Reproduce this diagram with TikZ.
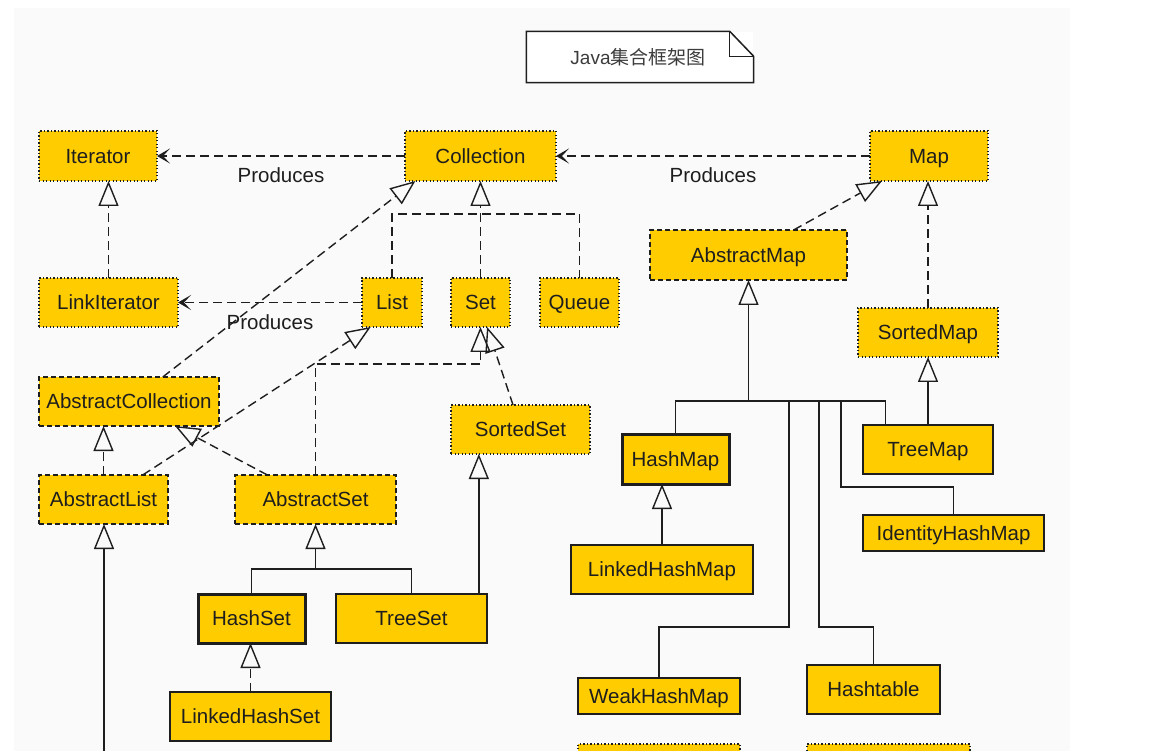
\documentclass[tikz,border=0pt]{standalone}
\usepackage{fontspec}
\setmainfont{Liberation Sans}
\newfontfamily\cjkfont{Noto Sans CJK SC}
\usetikzlibrary{arrows.meta}
\definecolor{jcfyellow}{RGB}{255,204,0}
\definecolor{jcfpanel}{RGB}{250,250,250}
\definecolor{jcfink}{RGB}{30,30,30}
\definecolor{jcftitle}{RGB}{60,60,60}

\begin{document}
\begin{tikzpicture}[x=1pt, y=-1pt, line width=1.4pt, color=jcfink,
  box/.style={fill=jcfyellow, text=jcfink, inner sep=0pt, outer sep=0pt,
    text height=14.5pt, text depth=0pt, font=\fontsize{20.5}{24}\selectfont},
  boxsize/.style 2 args={minimum width=#1pt, minimum height=#2pt},
  iface/.style={box, draw, line width=1.3pt, dash pattern=on 1.3pt off 2.2pt},
  abstr/.style={box, draw, line width=1.3pt, dash pattern=on 5pt off 3pt},
  impl/.style={box, draw, line width=1.5pt},
  core/.style={box, draw, line width=3pt},
  dep/.style={dash pattern=on 9pt off 5pt},
  gen/.style={-{Triangle[open, length=25pt, width=20pt]}},
  prod/.style={dep, -{Stealth[length=13pt, width=15pt, inset=7pt]}},
  lbl/.style={below=9pt, inner sep=2pt, text=jcfink, font=\fontsize{20.5}{24}\selectfont}]

% Canvas
\useasboundingbox (0,0) rectangle (1168,751);
\clip (0,0) rectangle (1168,751);
\fill[white] (0,0) rectangle (1168,751);
\fill[jcfpanel] (14,8) rectangle (1070,751);

% Title note
\node[fill=white, inner sep=0pt, boxsize={226}{50}, text=jcftitle,
  font=\fontsize{19}{22}\selectfont] (title) at (640,57) {Java{\cjkfont 集合框架图}\hspace*{4pt}};
\draw[line width=1.5pt] (title.north west) -- ([xshift=-24pt]title.north east)
  -- ([yshift=-25pt]title.north east) -- (title.south east) -- (title.south west) -- cycle;
\draw[line width=1.5pt] ([xshift=-24pt]title.north east) -- ++(0,25) -- ([yshift=-25pt]title.north east);

% Interfaces
\node[iface, boxsize={118}{50}] (iterator) at (98,156) {Iterator};
\node[iface, boxsize={151}{50}] (collection) at (480.5,156) {Collection};
\node[iface, boxsize={118}{50}] (map) at (929,156) {Map};
\node[iface, boxsize={139}{49}] (linkiter) at (108.5,302.5) {LinkIterator};
\node[iface, boxsize={60}{49}] (list) at (392,302.5) {List};
\node[iface, boxsize={59}{49}] (set) at (480.5,302.5) {Set};
\node[iface, boxsize={79}{49}] (queue) at (579.5,302.5) {Queue};
\node[iface, boxsize={140}{49}] (sortedmap) at (928,332.5) {SortedMap};
\node[iface, boxsize={139}{49}] (sortedset) at (520.5,429.5) {SortedSet};

% Abstract classes
\node[abstr, boxsize={197}{50}] (absmap) at (748.5,255) {AbstractMap};
\node[abstr, boxsize={180}{49}] (abscoll) at (129,401.5) {AbstractCollection};
\node[abstr, boxsize={129}{49}] (abslist) at (103.5,499.5) {AbstractList};
\node[abstr, boxsize={161}{49}] (absset) at (315.5,499.5) {AbstractSet};

% Concrete classes
\node[core, boxsize={107}{49}] (hashset) at (251.5,618.5) {HashSet};
\node[impl, boxsize={151}{49}] (treeset) at (411.5,618.5) {TreeSet};
\node[impl, boxsize={161}{49}] (lhset) at (250.5,716.5) {LinkedHashSet};
\node[core, boxsize={107}{50}] (hashmap) at (675.5,459) {HashMap};
\node[impl, boxsize={182}{49}] (lhmap) at (662,569.5) {LinkedHashMap};
\node[impl, boxsize={130}{49}] (treemap) at (928,449.5) {TreeMap};
\node[impl, boxsize={181}{36}] (idhmap) at (953.5,533) {IdentityHashMap};
\node[impl, boxsize={162}{36}] (weakhmap) at (659,696) {WeakHashMap};
\node[impl, boxsize={133}{49}] (hashtable) at (873.5,689.5) {Hashtable};

% Boxes cut off at the lower edge
\node[iface, boxsize={162}{50}] (lowleft) at (659,769) {};
\node[iface, boxsize={163}{50}] (lowright) at (888.5,769) {};

% Produces
\draw[prod] (collection) -- node[lbl] {Produces} (iterator);
\draw[prod] (map) -- node[lbl] {Produces} (collection);
\draw[prod] (list) -- node[lbl] {Produces} (linkiter);

% Interface inheritance
\coordinate (colbus) at (480.5,214);
\draw[dep] (list.north) |- (colbus) -| (queue.north);
\draw[dep, gen] (set) -- (collection);
\draw[dep, gen] (linkiter.north) -- (linkiter.north |- iterator.south);
\draw[dep, gen] (sortedmap.north) -- (sortedmap.north |- map.south);
\draw[dep, gen] (sortedset.107) -- (set.285);

% Abstract classes
\draw[dep, gen] (abscoll.36) -- (collection.201);
\draw[dep, gen] (absmap.29) -- (map.208);
\draw[dep, gen] (abslist.north) -- (abslist.north |- abscoll.south);
\draw[dep, gen] (abslist.32) -- (list.229);
\draw[dep, gen] (absset.153) -- (abscoll.332);
\coordinate (setbus) at (315.5,364);
\draw[dep, gen] (absset.north) -- (setbus) -| (set.south);

% Set classes
\coordinate (hsbus) at (315.5,569);
\draw (hashset.north) |- (hsbus) -| (treeset.north);
\draw[gen] (hsbus) -- (absset.south);
\draw[gen] (treeset.20) -- (treeset.20 |- sortedset.south);
\draw[dep, gen] (lhset.north) -- (lhset.north |- hashset.south);
\coordinate (listend) at (104,760);
\draw[gen] (listend) -- (listend |- abslist.south);

% Map classes
\coordinate (mapbus) at (748.5,401);
\draw[gen] (mapbus) -- (absmap.south);
\draw (hashmap.north) |- (mapbus) -| (treemap.150);
\coordinate (weakbend) at (789,627);
\coordinate (tablebend) at (819,627);
\coordinate (identbend) at (841,487);
\draw (weakhmap.north) |- (weakbend) -- (weakbend |- mapbus);
\draw (hashtable.north) |- (tablebend) -- (tablebend |- mapbus);
\draw (idhmap.north) |- (identbend) -- (identbend |- mapbus);
\draw[gen] (lhmap.north) -- (lhmap.north |- hashmap.south);
\draw[gen] (treemap.north) -- (treemap.north |- sortedmap.south);
\end{tikzpicture}
\end{document}
